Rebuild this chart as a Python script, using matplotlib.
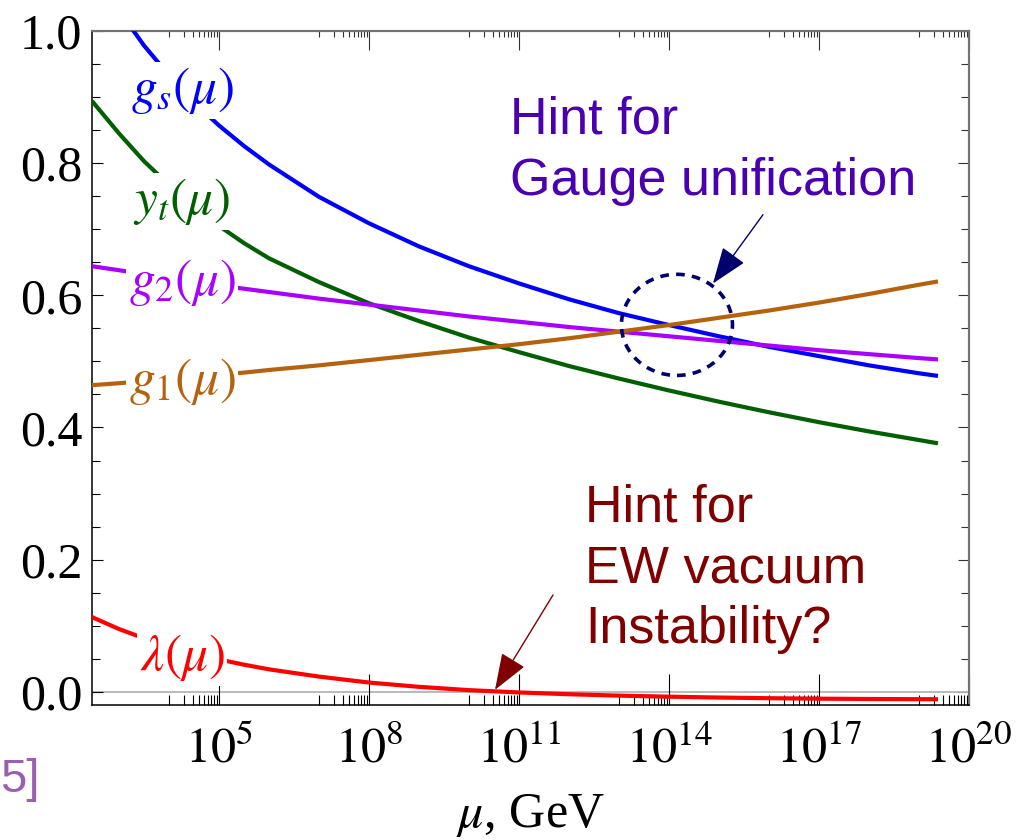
import numpy as np
import matplotlib.pyplot as plt
from matplotlib.patches import Ellipse
from matplotlib.ticker import FixedLocator, MultipleLocator, NullFormatter

plt.rcParams.update({
    'font.family': 'serif',
    'font.serif': ['Liberation Serif', 'DejaVu Serif'],
    'mathtext.fontset': 'stix',
})

# running couplings, x in log10(mu / GeV)
log10_mu = [2.46, 3, 3.5, 4, 4.5, 5, 5.5, 6, 7, 8, 9, 10, 11, 12, 13, 14, 15, 16, 17, 18, 19, 19.38]
g_s = [1.099, 1.031, 0.978, 0.933, 0.892, 0.857, 0.826, 0.798, 0.749, 0.709, 0.674, 0.644,
       0.618, 0.594, 0.573, 0.555, 0.538, 0.522, 0.508, 0.494, 0.482, 0.478]
y_t = [0.894, 0.845, 0.803, 0.767, 0.734, 0.705, 0.679, 0.656, 0.620, 0.588, 0.561, 0.536,
       0.514, 0.493, 0.474, 0.456, 0.439, 0.423, 0.408, 0.394, 0.381, 0.376]
g_2 = [0.644, 0.638, 0.632, 0.626, 0.620, 0.615, 0.610, 0.605, 0.595, 0.586, 0.577, 0.568,
       0.560, 0.552, 0.545, 0.538, 0.531, 0.524, 0.517, 0.511, 0.505, 0.503]
g_1 = [0.464, 0.467, 0.470, 0.474, 0.477, 0.480, 0.483, 0.487, 0.494, 0.502, 0.510, 0.518,
       0.526, 0.535, 0.545, 0.555, 0.566, 0.577, 0.589, 0.602, 0.616, 0.621]
lam = [0.113, 0.095, 0.081, 0.069, 0.058, 0.049, 0.041, 0.034, 0.023, 0.014, 0.0075, 0.0025,
       -0.001, -0.0037, -0.0058, -0.0074, -0.0087, -0.0097, -0.0104, -0.0109, -0.0112, -0.0113]

curve_names = [r'$g_s(\mu)$', r'$y_t(\mu)$', r'$g_2(\mu)$', r'$g_1(\mu)$', r'$\lambda(\mu)$']
curve_colors = ['#0000ff', '#005f00', '#aa00ff', '#b5620f', '#ff0000']

xtick_exps = [5, 8, 11, 14, 17, 20]
xtick_labels = [r'$10^{%d}$' % e for e in xtick_exps]
ytick_labels = ['0.0', '0.2', '0.4', '0.6', '0.8', '1.0']

mu = 10.0 ** np.array(log10_mu)

fig = plt.figure(figsize=(10.28, 8.4), dpi=100)
ax = fig.add_axes([0.0895, 0.1607, 0.8531, 0.8024])

ax.axhline(0, color='#b4b4b4', lw=1.3, zorder=1)
for vals, c in zip([g_s, y_t, g_2, g_1, lam], curve_colors):
    ax.plot(mu, vals, color=c, lw=3, zorder=3, solid_capstyle='butt', solid_joinstyle='round')

ax.set_xscale('log')
ax.set_xlim(10 ** 2.46, 1e20)
ax.set_ylim(-0.02, 1.0)

xt = [10.0 ** e for e in xtick_exps]
xminor = [k * 10.0 ** (e - 1) for e in xtick_exps for k in range(1, 10)]
ax.set_xticks(xt, xtick_labels)
ax.xaxis.set_minor_locator(FixedLocator(xminor))
ax.xaxis.set_minor_formatter(NullFormatter())
ax.set_yticks(np.arange(0, 1.01, 0.2), ytick_labels)
ax.yaxis.set_minor_locator(MultipleLocator(0.05))

ax.tick_params(axis='x', which='major', direction='in', length=22, width=0.8, pad=16, labelsize=36)
ax.tick_params(axis='x', which='minor', direction='in', length=7, width=0.8)
ax.tick_params(axis='y', which='major', direction='in', length=8, width=0.8, pad=7, labelsize=36)
ax.tick_params(axis='y', which='minor', direction='in', length=5.5, width=0.8)
for s in ['left', 'bottom']:
    ax.spines[s].set_linewidth(1.1)
for s in ['top', 'right']:
    ax.spines[s].set_color('0.45')
    ax.spines[s].set_linewidth(1.5)

# top and right frame ticks (shorter, grey)
top = ax.secondary_xaxis('top')
top.set_xticks(xt)
top.xaxis.set_major_formatter(NullFormatter())
top.xaxis.set_minor_locator(FixedLocator(xminor))
top.xaxis.set_minor_formatter(NullFormatter())
top.tick_params(which='major', direction='in', length=14, width=0.8, color='0.2')
top.tick_params(which='minor', direction='in', length=4, width=0.8, color='0.2')
top.spines['top'].set_color('0.45')
top.spines['top'].set_linewidth(1.5)

right = ax.secondary_yaxis('right')
right.set_yticks(np.arange(0, 1.01, 0.2))
right.yaxis.set_major_formatter(NullFormatter())
right.yaxis.set_minor_locator(MultipleLocator(0.05))
right.tick_params(which='major', direction='in', length=8, width=0.8, color='0.2')
right.tick_params(which='minor', direction='in', length=5.5, width=0.8, color='0.2')
right.spines['right'].set_color('0.45')
right.spines['right'].set_linewidth(1.5)

ax.set_xlabel(r'$\mu$, GeV', fontsize=36, labelpad=13)

# curve labels with white background cutting the lines
label_y = [0.910, 0.742, 0.619, 0.470, 0.052]
for name, c, yy in zip(curve_names, curve_colors, label_y):
    ax.text(10 ** 4.26, yy, name, color=c, fontsize=37, ha='center', va='center', zorder=5,
            bbox=dict(facecolor='white', edgecolor='none', pad=2))

# unification hint
ax.add_patch(Ellipse((0.667, 0.564), 0.1266, 0.150, transform=ax.transAxes, fill=False,
                     edgecolor='#00006e', lw=2.6, linestyle=(0, (2.4, 2.0)), zorder=4))
ax.annotate('', xy=(10 ** 14.88, 0.618), xytext=(10 ** 15.88, 0.722),
            arrowprops=dict(arrowstyle='-|>,head_length=0.46,head_width=0.17', mutation_scale=50,
                            color='#00006e', lw=1, shrinkA=0, shrinkB=0), zorder=6)
ax.text(0.4766, 0.7567, 'Hint for\nGauge unification', transform=ax.transAxes,
        family='Liberation Sans', fontsize=37.5, color='#4a00b0', ha='left', va='baseline',
        linespacing=1.33)

# vacuum stability hint
ax.annotate('', xy=(10 ** 10.52, 0.003), xytext=(10 ** 11.68, 0.1465),
            arrowprops=dict(arrowstyle='-|>,head_length=0.46,head_width=0.17', mutation_scale=50,
                            color='#800000', lw=1, shrinkA=0, shrinkB=0), zorder=6)
ax.text(0.562, 0.092, 'Hint for\nEW vacuum\nInstability?', transform=ax.transAxes,
        family='Liberation Sans', fontsize=37.5, color='#800000', ha='left', va='baseline',
        linespacing=1.31)

fig.text(40 / 1028, 48 / 840, '5]', family='Liberation Sans', fontsize=34, color='#9b5fb0',
         ha='right', va='baseline')

fig.savefig('out.png', dpi=100)
